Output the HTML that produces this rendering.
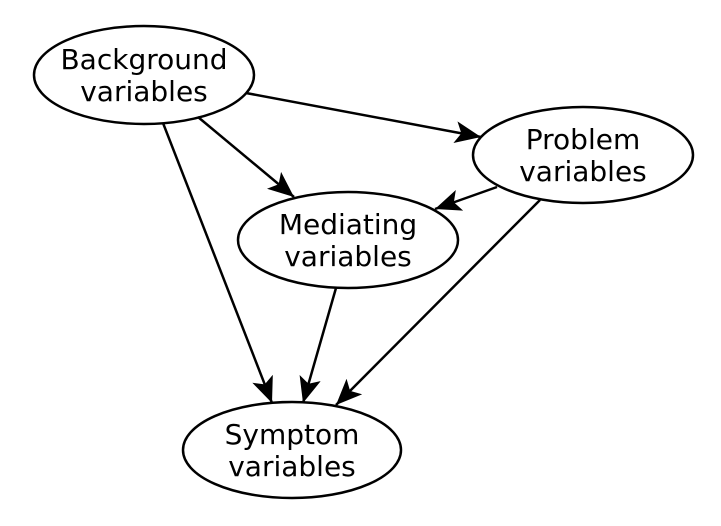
<!DOCTYPE html>
<html><head><meta charset="utf-8"><style>
html,body{margin:0;padding:0;background:#fff;}
svg{display:block;}
text{font-family:"DejaVu Sans","Liberation Sans",sans-serif;font-size:28px;fill:#000;text-anchor:middle;}
</style></head><body>
<svg width="721" height="526" viewBox="0 0 721 526" xmlns="http://www.w3.org/2000/svg">
<defs>
<marker id="a" markerUnits="userSpaceOnUse" markerWidth="30" markerHeight="24" refX="26" refY="11" orient="auto">
<path d="M0,0 L26,11 L0,22 L6,11 z" fill="#000"/>
</marker>
</defs>
<g fill="#fff" stroke="#000" stroke-width="2.5">
<ellipse cx="144" cy="75" rx="110" ry="49"/>
<ellipse cx="583" cy="155" rx="110" ry="48"/>
<ellipse cx="348" cy="240" rx="110" ry="48"/>
<ellipse cx="292" cy="450" rx="109" ry="48"/>
</g>
<g stroke="#000" stroke-width="2.5" marker-end="url(#a)">
<line x1="246" y1="93" x2="481" y2="137"/>
<line x1="198" y1="117" x2="294" y2="197"/>
<line x1="497" y1="187" x2="435" y2="209"/>
<line x1="163" y1="123" x2="272" y2="403"/>
<line x1="336" y1="288" x2="303" y2="403"/>
<line x1="540" y1="200" x2="336" y2="405"/>
</g>
<text x="144" y="69">Background</text>
<text x="144" y="101">variables</text>
<text x="583" y="149">Problem</text>
<text x="583" y="181">variables</text>
<text x="348" y="234">Mediating</text>
<text x="348" y="266">variables</text>
<text x="292" y="444">Symptom</text>
<text x="292" y="476">variables</text>
</svg>
</body></html>
